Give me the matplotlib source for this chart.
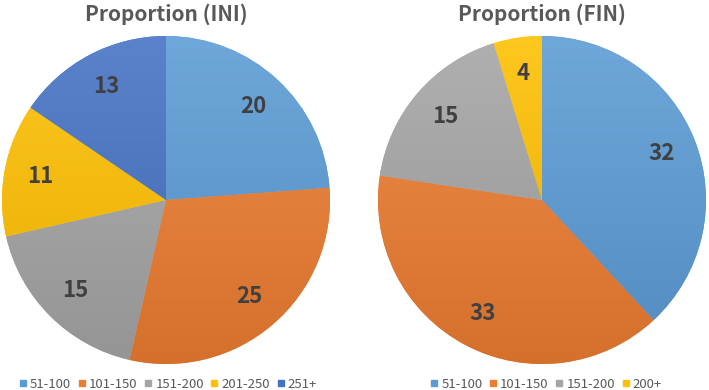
import numpy as np
import matplotlib.pyplot as plt
from matplotlib.lines import Line2D
from matplotlib.colors import LinearSegmentedColormap, to_rgb

plt.rcParams['font.family'] = ['Noto Sans CJK KR', 'DejaVu Sans']

# data
ini_labels = ['51-100', '101-150', '151-200', '201-250', '251+']
ini_values = [20, 25, 15, 11, 13]
fin_labels = ['51-100', '101-150', '151-200', '200+']
fin_values = [32, 33, 15, 4]

colors = ['#5B9BD5', '#ED7D31', '#A5A5A5', '#FFC000', '#4472C4']
text_gray = '#595959'

fig = plt.figure(figsize=(7.09, 3.9), dpi=100)
W, H = 709.0, 390.0


def shade(c, f):
    c = np.array(to_rgb(c))
    if f > 0:
        return tuple(c + (1 - c) * f)
    return tuple(c * (1 + f))


def draw_pie(cx, cy, r, values, labels, title, legend_x):
    ax = fig.add_axes([(cx - r) / W, (H - cy - r) / H, 2 * r / W, 2 * r / H])
    cols = colors[:len(values)]
    wedges, texts, autotexts = ax.pie(
        values, colors=cols, startangle=90, counterclock=False,
        autopct=lambda p: '%d' % round(p * sum(values) / 100.0),
        pctdistance=0.78,
        wedgeprops=dict(edgecolor='none', linewidth=0),
        textprops=dict(fontsize=16, fontweight='bold', color='#404040'))
    # excel-like vertical gradient on each slice
    grad = np.linspace(0, 1, 256).reshape(-1, 1)
    for w, c in zip(wedges, cols):
        cmap = LinearSegmentedColormap.from_list('g', [shade(c, 0.12), shade(c, -0.1)])
        im = ax.imshow(grad, cmap=cmap, extent=[-1, 1, -1, 1], origin='upper',
                       aspect='auto', zorder=1.5)
        im.set_clip_path(w)
    for t in autotexts:
        t.set_zorder(3)
    ax.set_xlim(-1, 1)
    ax.set_ylim(-1, 1)
    ax.set_aspect('equal')
    ax.axis('off')
    fig.text(cx / W, 1 - 14 / H, title, ha='center', va='center',
             fontsize=15, fontweight='bold', color=text_gray)
    handles = [Line2D([0], [0], marker='s', linestyle='', markersize=5,
                      markerfacecolor=c, markeredgecolor=c) for c in cols]
    fig.legend(handles, labels, loc='center', bbox_to_anchor=(legend_x / W, 1 - 384 / H),
               ncol=len(labels), frameon=False, fontsize=9.5, labelcolor=text_gray,
               handlelength=0.6, handletextpad=0.25, columnspacing=0.5, borderaxespad=0)


draw_pie(166, 200, 164, ini_values, ini_labels, 'Proportion (INI)', 168)
draw_pie(542, 200, 164, fin_values, fin_labels, 'Proportion (FIN)', 546)

fig.savefig('out.png', dpi=100)
